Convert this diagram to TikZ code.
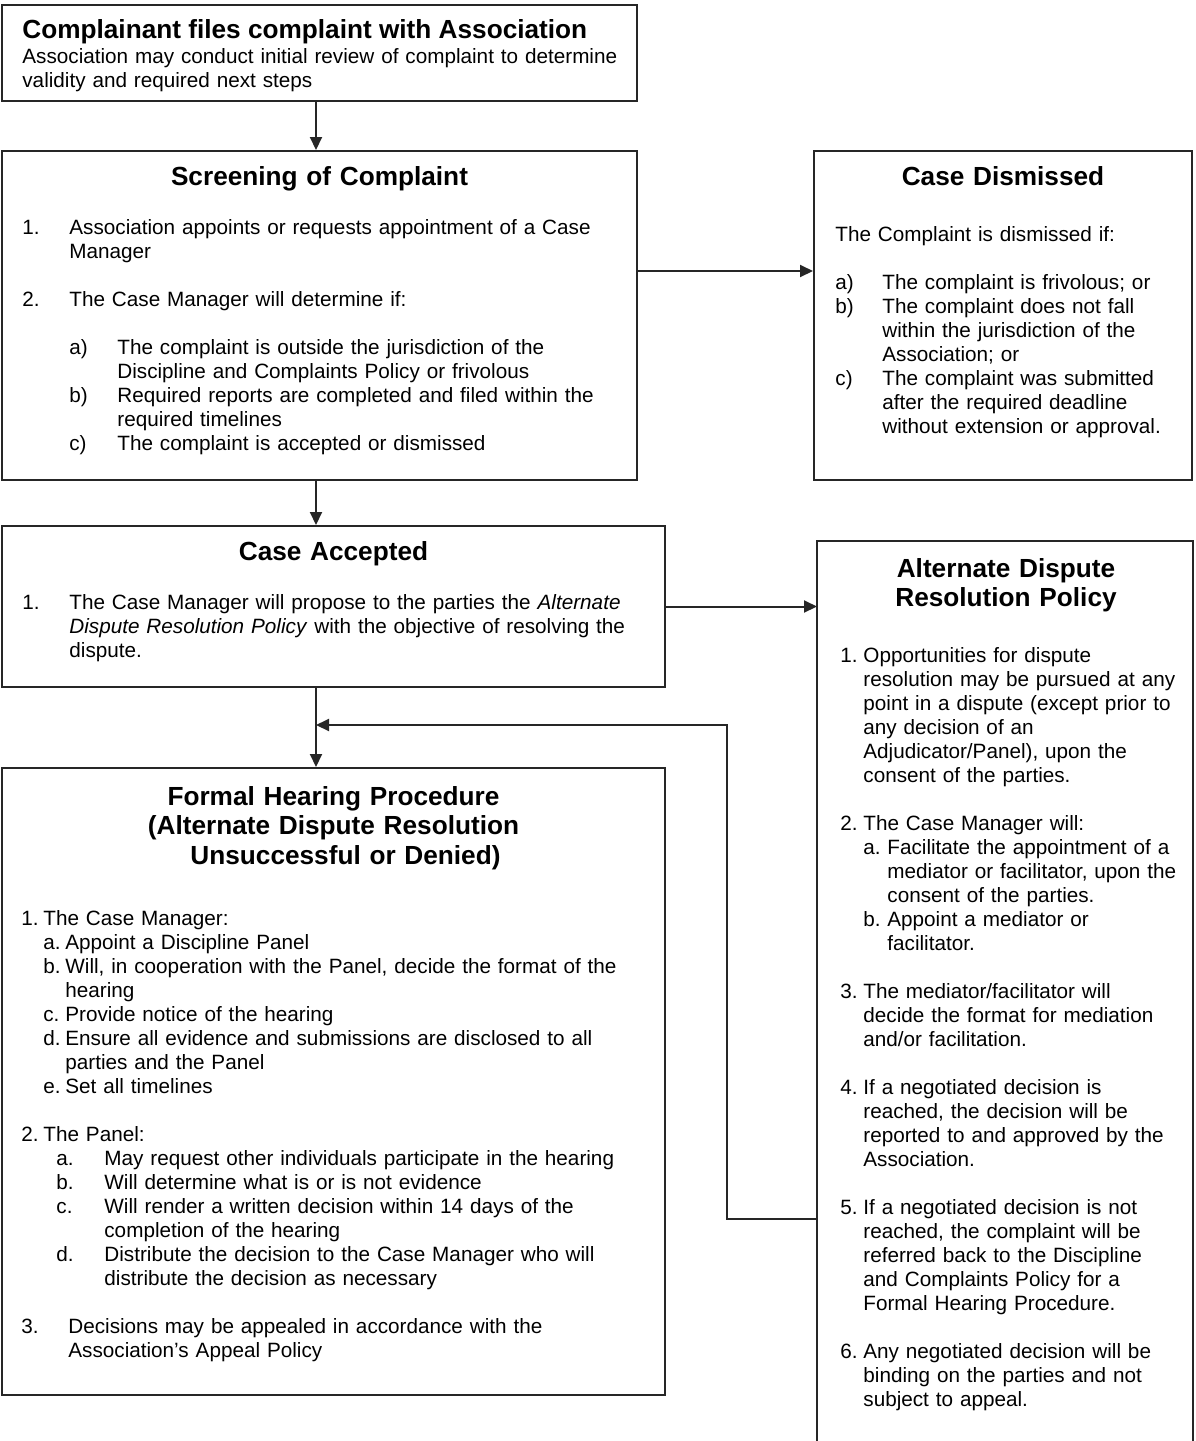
\documentclass[tikz,border=0pt]{standalone}
\usepackage{fontspec}
\setmainfont{Liberation Sans}
\usetikzlibrary{arrows.meta, positioning, fit}

\newcommand{\numlbl}[2]{\makebox[#1][l]{#2}}

\begin{document}
\begin{tikzpicture}[x=0.5pt, y=-0.5pt,
    box/.style={draw=black!85, line width=1pt, inner sep=0pt},
    heading/.style={font=\fontsize{13.1}{14.75}\selectfont\bfseries, inner sep=0pt, align=center, anchor=base},
    bodytext/.style={font=\fontsize{10.35}{12}\selectfont, inner sep=0pt, align=left, anchor=base west},
    arr/.style={-{Triangle[length=6.5pt, width=6pt]}, line width=1pt, draw=black!85},
]
\useasboundingbox (0,0) rectangle (1195,1441);

% Boxes
\node[box, fit={(2,5) (637,101)}] (start) {};
\node[box, fit={(2,151) (637,480)}] (screen) {};
\node[box, fit={(814,151) (1192,480)}] (dismissed) {};
\node[box, fit={(2,526) (665,687)}] (accepted) {};
\node[box, draw=none, fit={(818,542) (1192,1441)}] (adr) {};
\node[box, fit={(2,768) (665,1395)}] (formal) {};
\draw[box] (adr.south west) |- (adr.north east) -- (adr.south east);

% Complainant
\node[heading, anchor=base west, align=left] (startT) at (22,38) {Complainant files complaint with Association};
\node[bodytext, text width=320pt] (startB) at (22,63) {Association may conduct initial review of complaint to determine\\
validity and required next steps};

% Screening
\node[heading, text width=300pt] (screenT) at (319.5,185) {Screening of Complaint};
\node[bodytext, text width=320pt] (screenB) at (22,234) {\numlbl{23.5pt}{1.}Association appoints or requests appointment of a Case\\
\hspace*{23.5pt}Manager\\[12pt]
\numlbl{23.5pt}{2.}The Case Manager will determine if:\\[12pt]
\hspace*{23.5pt}\numlbl{24pt}{a)}The complaint is outside the jurisdiction of the\\
\hspace*{47.5pt}Discipline and Complaints Policy or frivolous\\
\hspace*{23.5pt}\numlbl{24pt}{b)}Required reports are completed and filed within the\\
\hspace*{47.5pt}required timelines\\
\hspace*{23.5pt}\numlbl{24pt}{c)}The complaint is accepted or dismissed};

% Dismissed
\node[heading, text width=180pt] (dismissedT) at (1003,185) {Case Dismissed};
\node[bodytext, text width=175pt] (dismissedB) at (835,241) {The Complaint is dismissed if:\\[12pt]
\numlbl{23.5pt}{a)}The complaint is frivolous; or\\
\numlbl{23.5pt}{b)}The complaint does not fall\\
\hspace*{23.5pt}within the jurisdiction of the\\
\hspace*{23.5pt}Association; or\\
\numlbl{23.5pt}{c)}The complaint was submitted\\
\hspace*{23.5pt}after the required deadline\\
\hspace*{23.5pt}without extension or approval.};

% Accepted
\node[heading, text width=300pt] (acceptedT) at (333.5,560) {Case Accepted};
\node[bodytext, text width=320pt] (acceptedB) at (22,609) {\numlbl{23.5pt}{1.}The Case Manager will propose to the parties the \textit{Alternate}\\
\hspace*{23.5pt}\textit{Dispute Resolution Policy} with the objective of resolving the\\
\hspace*{23.5pt}dispute.};

% Alternate dispute resolution
\node[heading, text width=180pt] (adrT) at (1006,577) {Alternate Dispute\\Resolution Policy};
\node[bodytext, text width=175pt] (adrB) at (840,662) {\numlbl{11.5pt}{1.}Opportunities for dispute\\
\hspace*{11.5pt}resolution may be pursued at any\\
\hspace*{11.5pt}point in a dispute (except prior to\\
\hspace*{11.5pt}any decision of an\\
\hspace*{11.5pt}Adjudicator/Panel), upon the\\
\hspace*{11.5pt}consent of the parties.\\[12pt]
\numlbl{11.5pt}{2.}The Case Manager will:\\
\hspace*{11.5pt}\numlbl{12pt}{a.}Facilitate the appointment of a\\
\hspace*{23.5pt}mediator or facilitator, upon the\\
\hspace*{23.5pt}consent of the parties.\\
\hspace*{11.5pt}\numlbl{12pt}{b.}Appoint a mediator or\\
\hspace*{23.5pt}facilitator.\\[12pt]
\numlbl{11.5pt}{3.}The mediator/facilitator will\\
\hspace*{11.5pt}decide the format for mediation\\
\hspace*{11.5pt}and/or facilitation.\\[12pt]
\numlbl{11.5pt}{4.}If a negotiated decision is\\
\hspace*{11.5pt}reached, the decision will be\\
\hspace*{11.5pt}reported to and approved by the\\
\hspace*{11.5pt}Association.\\[12pt]
\numlbl{11.5pt}{5.}If a negotiated decision is not\\
\hspace*{11.5pt}reached, the complaint will be\\
\hspace*{11.5pt}referred back to the Discipline\\
\hspace*{11.5pt}and Complaints Policy for a\\
\hspace*{11.5pt}Formal Hearing Procedure.\\[12pt]
\numlbl{11.5pt}{6.}Any negotiated decision will be\\
\hspace*{11.5pt}binding on the parties and not\\
\hspace*{11.5pt}subject to appeal.};

% Formal hearing
\node[heading, text width=300pt] (formalT) at (333.5,805) {Formal Hearing Procedure\\
(Alternate Dispute Resolution\\
\hspace*{12pt}Unsuccessful or Denied)};
\node[bodytext, text width=320pt] (formalB) at (21,925) {\numlbl{11pt}{1.}The Case Manager:\\
\hspace*{11pt}\numlbl{11pt}{a.}Appoint a Discipline Panel\\
\hspace*{11pt}\numlbl{11pt}{b.}Will, in cooperation with the Panel, decide the format of the\\
\hspace*{22pt}hearing\\
\hspace*{11pt}\numlbl{11pt}{c.}Provide notice of the hearing\\
\hspace*{11pt}\numlbl{11pt}{d.}Ensure all evidence and submissions are disclosed to all\\
\hspace*{22pt}parties and the Panel\\
\hspace*{11pt}\numlbl{11pt}{e.}Set all timelines\\[12pt]
\numlbl{11pt}{2.}The Panel:\\
\hspace*{17.5pt}\numlbl{24pt}{a.}May request other individuals participate in the hearing\\
\hspace*{17.5pt}\numlbl{24pt}{b.}Will determine what is or is not evidence\\
\hspace*{17.5pt}\numlbl{24pt}{c.}Will render a written decision within 14 days of the\\
\hspace*{41.5pt}completion of the hearing\\
\hspace*{17.5pt}\numlbl{24pt}{d.}Distribute the decision to the Case Manager who will\\
\hspace*{41.5pt}distribute the decision as necessary\\[12pt]
\numlbl{23.5pt}{3.}Decisions may be appealed in accordance with the\\
\hspace*{23.5pt}Association's Appeal Policy};

% Connectors
\coordinate (spine) at (316,0);
\coordinate (dm) at (700,271);
\coordinate (merge) at (316,725);
\coordinate (loop) at (727,1219);

\draw[arr] (start.south -| spine) -- (screen.north -| spine);
\draw[arr] (screen.east |- dm) -- (dismissed.west |- dm);
\draw[arr] (screen.south -| spine) -- (accepted.north -| spine);
\draw[arr] (accepted.east) -- (accepted.east -| adr.west);
\draw[arr] (accepted.south -| spine) -- (formal.north -| spine);
\draw[arr] (loop -| adr.west) -- (loop) |- (merge);

\end{tikzpicture}
\end{document}
